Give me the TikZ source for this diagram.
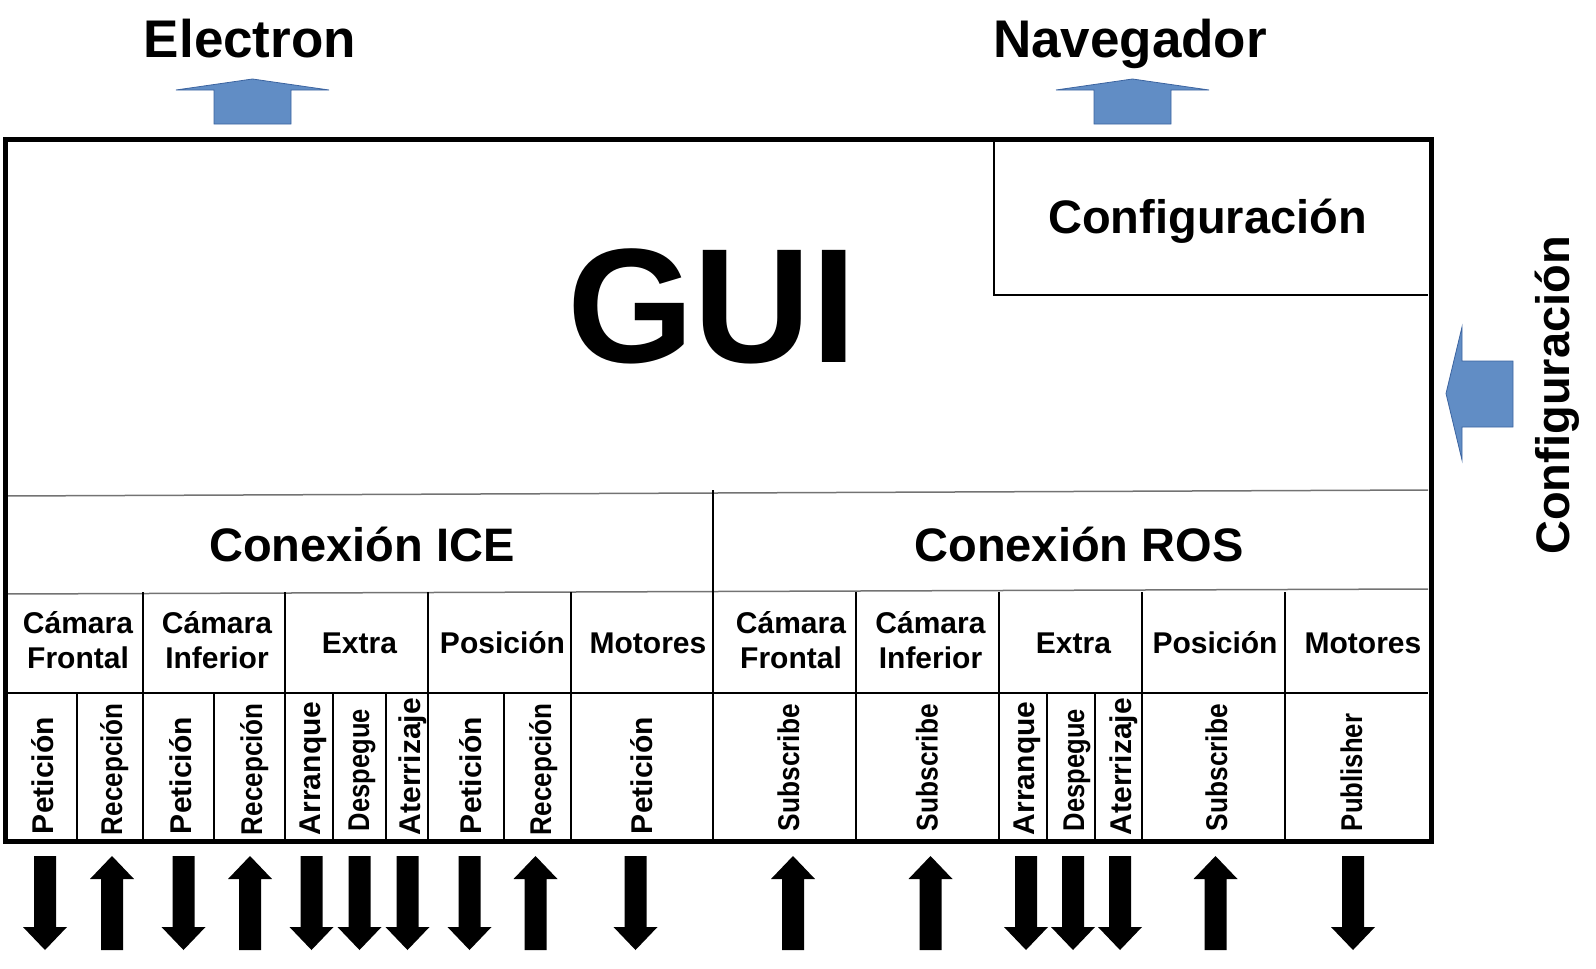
\documentclass[tikz,border=0pt]{standalone}
\usepackage{fontspec}
\usepackage{graphicx}
\setmainfont{Liberation Sans}
\definecolor{blueA}{RGB}{97,141,197}
\definecolor{blueB}{RGB}{60,100,160}
\newcommand\hsq[2]{\scalebox{#1}[1]{#2}}
\tikzset{
  frame/.style={line width=5pt, line join=miter},
  thinl/.style={line width=1.2pt},
  greyl/.style={line width=1.5pt, draw=black!55},
  bluearr/.style={fill=blueA, draw=blueB, line width=0.8pt},
  txt/.style={inner sep=0pt, outer sep=0pt, font=\bfseries\fontsize{#1}{#1}\selectfont},
  vlbl/.style={txt=#1, rotate=90, anchor=base west},
  dnarr/.pic={\fill (-11,0) -- (11,0) -- (11,71) -- (22,71) -- (0,94) -- (-22,71) -- (-11,71) -- cycle;},
  uparr/.pic={\fill (0,0) -- (22,23) -- (11,23) -- (11,94) -- (-11,94) -- (-11,23) -- (-22,23) -- cycle;},
}
\begin{document}
\begin{tikzpicture}[x=1pt,y=-1pt]
\useasboundingbox (0,0) rectangle (1596,969);

% blue arrows
\draw[bluearr] (252.5,79) -- (329,90) -- (291,90) -- (291,124) -- (214,124) -- (214,90) -- (176,90) -- cycle;
\draw[bluearr] (1132.5,79) -- (1209,90) -- (1171,90) -- (1171,124) -- (1094,124) -- (1094,90) -- (1056,90) -- cycle;
\draw[bluearr] (1446,393.5) -- (1462,327) -- (1462,361) -- (1513,361) -- (1513,427) -- (1462,427) -- (1462,460) -- cycle;

% top labels
\node[txt=53, anchor=base] (electron) at (250,57) {Electron};
\node[txt=53, anchor=base] (navegador) at (1130,57) {Navegador};
\node[txt=47, rotate=90, anchor=base] (configside) at (1569,395.5) {Configuración};

% inner lines
\draw[thinl] (994,142) -- (994,296);
\draw[thinl] (994,295) -- (1428,295);
\draw[greyl] (5,496) -- (1428,490);
\draw[greyl] (5,594) -- (1428,589);
\draw[thinl] (713,490) -- (713,841);
\draw[thinl] (5,693) -- (1428,693);
\foreach \xx in {143,285,428,571,856,999,1142,1285}
  \draw[thinl] (\xx,592) -- (\xx,841);
\foreach \xx in {77,214,333,386,504,1047,1095}
  \draw[thinl] (\xx,693) -- (\xx,841);

% main frame
\draw[frame] (5,139) rectangle (1431,841);

% big labels
\node[txt=163, anchor=base] (gui) at (712,362) {GUI};
\node[txt=47, anchor=base] (configbox) at (1207.5,233) {Configuración};
\node[txt=47, anchor=base] (ice) at (362,561) {Conexión ICE};
\node[txt=47, anchor=base] (ros) at (1079,561) {Conexión ROS};

% column headers ICE
\node[txt=30, anchor=base] (h1a) at (78,633) {Cámara};
\node[txt=30, anchor=base] (h1b) at (78,668) {Frontal};
\node[txt=30, anchor=base] (h2a) at (217,633) {Cámara};
\node[txt=30, anchor=base] (h2b) at (217,668) {Inferior};
\node[txt=30, anchor=base] (h3) at (359.5,653) {Extra};
\node[txt=30, anchor=base] (h4) at (502.5,653) {Posición};
\node[txt=30, anchor=base] (h5) at (648,653) {Motores};
% column headers ROS
\node[txt=30, anchor=base] (h6a) at (791,633) {Cámara};
\node[txt=30, anchor=base] (h6b) at (791,668) {Frontal};
\node[txt=30, anchor=base] (h7a) at (930.5,633) {Cámara};
\node[txt=30, anchor=base] (h7b) at (930.5,668) {Inferior};
\node[txt=30, anchor=base] (h8) at (1073.5,653) {Extra};
\node[txt=30, anchor=base] (h9) at (1215,653) {Posición};
\node[txt=30, anchor=base] (h10) at (1363,653) {Motores};

% vertical labels ICE
\node[vlbl=30] (v1) at (53,834) {Petición};
\node[vlbl=30] (v2) at (122,835) {\hsq{0.868}{Recepción}};
\node[vlbl=30] (v3) at (191,834) {Petición};
\node[vlbl=30] (v4) at (262,835) {\hsq{0.868}{Recepción}};
\node[vlbl=30] (v5) at (320,835) {Arranque};
\node[vlbl=30] (v6) at (369,831) {\hsq{0.85}{Despegue}};
\node[vlbl=30] (v7) at (420,835) {Aterrizaje};
\node[vlbl=30] (v8) at (481,834) {Petición};
\node[vlbl=30] (v9) at (551,835) {\hsq{0.868}{Recepción}};
\node[vlbl=30] (v10) at (652,834) {Petición};
% vertical labels ROS
\node[vlbl=30] (v11) at (799,831) {\hsq{0.875}{Subscribe}};
\node[vlbl=30] (v12) at (937.5,831) {\hsq{0.875}{Subscribe}};
\node[vlbl=30] (v13) at (1034,835) {Arranque};
\node[vlbl=30] (v14) at (1084,831) {\hsq{0.85}{Despegue}};
\node[vlbl=30] (v15) at (1131,835) {Aterrizaje};
\node[vlbl=30] (v16) at (1227,831) {\hsq{0.875}{Subscribe}};
\node[vlbl=30] (v17) at (1362,831) {\hsq{0.856}{Publisher}};

% black arrows
\pic at (45,856) {dnarr};
\pic at (112,856) {uparr};
\pic at (183.5,856) {dnarr};
\pic at (250,856) {uparr};
\pic at (311.5,856) {dnarr};
\pic at (359.5,856) {dnarr};
\pic at (407.5,856) {dnarr};
\pic at (469.5,856) {dnarr};
\pic at (535.5,856) {uparr};
\pic at (635.5,856) {dnarr};
\pic at (793,856) {uparr};
\pic at (930.5,856) {uparr};
\pic at (1026,856) {dnarr};
\pic at (1073,856) {dnarr};
\pic at (1120,856) {dnarr};
\pic at (1215.5,856) {uparr};
\pic at (1353,856) {dnarr};
\end{tikzpicture}
\end{document}
